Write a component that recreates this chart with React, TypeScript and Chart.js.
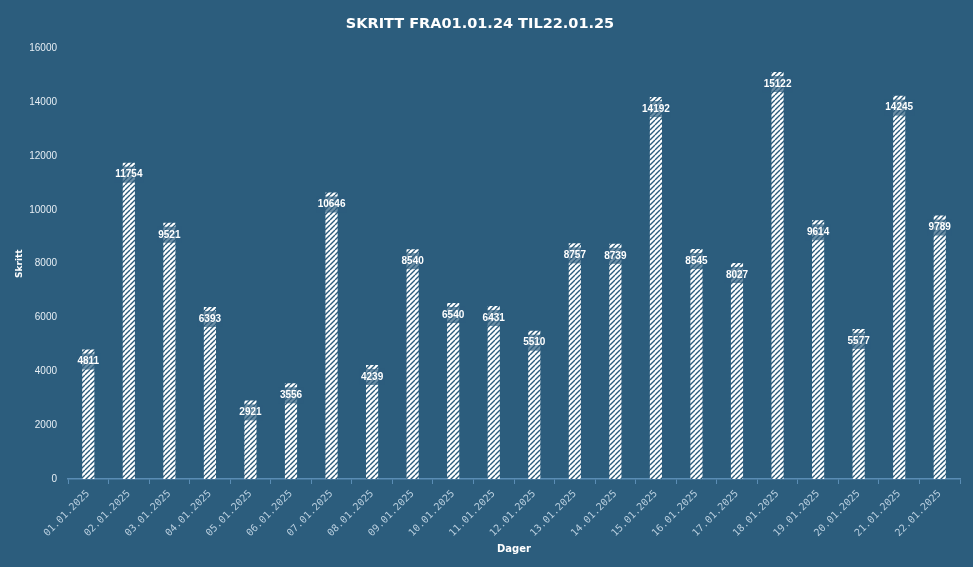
import React, { useEffect, useRef } from "react";
import { Chart, registerables } from "chart.js";

Chart.register(...registerables);

const categories = [
  "01.01.2025", "02.01.2025", "03.01.2025", "04.01.2025", "05.01.2025", "06.01.2025",
  "07.01.2025", "08.01.2025", "09.01.2025", "10.01.2025", "11.01.2025", "12.01.2025",
  "13.01.2025", "14.01.2025", "15.01.2025", "16.01.2025", "17.01.2025", "18.01.2025",
  "19.01.2025", "20.01.2025", "21.01.2025", "22.01.2025",
];
const steps = [
  4811, 11754, 9521, 6393, 2921, 3556, 10646, 4239, 8540, 6540, 6431, 5510,
  8757, 8739, 14192, 8545, 8027, 15122, 9614, 5577, 14245, 9789,
];
const yTicks = [0, 2000, 4000, 6000, 8000, 10000, 12000, 14000, 16000];
const titleText = "SKRITT FRA01.01.24 TIL22.01.25";
const xTitle = "Dager";
const yTitle = "Skritt";

const BG = "rgb(44,93,125)";

function makePattern(): CanvasPattern | string {
  const c = document.createElement("canvas");
  const s = 5;
  c.width = s;
  c.height = s;
  const ctx = c.getContext("2d");
  if (!ctx) return "#fff";
  ctx.fillStyle = "#ffffff";
  ctx.fillRect(0, 0, s, s);
  ctx.strokeStyle = BG;
  ctx.lineWidth = 1.4;
  ctx.beginPath();
  for (let k = -1; k <= 1; k++) {
    ctx.moveTo(k * s, s);
    ctx.lineTo(k * s + s, 0);
  }
  ctx.stroke();
  const p = ctx.createPattern(c, "repeat");
  return p || "#fff";
}

const labelPlugin = {
  id: "barLabels",
  afterDatasetsDraw(chart: any) {
    const ctx = chart.ctx;
    const meta = chart.getDatasetMeta(0);
    ctx.save();
    ctx.font = "bold 10px 'Liberation Sans'";
    ctx.textAlign = "center";
    ctx.textBaseline = "middle";
    meta.data.forEach((el: any, i: number) => {
      const txt = String(steps[i]);
      const w = ctx.measureText(txt).width;
      const y = el.y + 12;
      ctx.fillStyle = "rgba(44,93,125,0.7)";
      ctx.fillRect(el.x - w / 2 - 1, y - 8, w + 2, 16);
      ctx.fillStyle = "#ffffff";
      ctx.fillText(txt, el.x, y);
    });
    ctx.restore();
  },
};

export default function App() {
  const ref = useRef<HTMLCanvasElement | null>(null);
  useEffect(() => {
    if (!ref.current) return;
    const chart = new Chart(ref.current, {
      type: "bar",
      data: {
        labels: categories,
        datasets: [
          {
            data: steps,
            backgroundColor: makePattern() as any,
            borderWidth: 0,
            categoryPercentage: 1,
            barPercentage: 0.3,
          },
        ],
      },
      options: {
        responsive: false,
        animation: false,
        layout: { padding: { left: 0, right: 13, top: 0, bottom: 0 } },
        plugins: {
          legend: { display: false },
          tooltip: { enabled: false },
          title: {
            display: true,
            text: titleText,
            color: "#ffffff",
            font: { family: "'DejaVu Sans'", size: 14.5, weight: "bold" },
            padding: { top: 16, bottom: 15 },
          },
        },
        scales: {
          x: {
            afterFit: (s: any) => { s.height = 88; },
            grid: {
              display: true,
              drawOnChartArea: false,
              drawTicks: true,
              tickLength: 5,
              color: "#5a8db5",
              offset: true,
            },
            border: { display: true, color: "#5a8db5", width: 1.5 },
            ticks: {
              color: "#b9cfdf",
              font: { family: "'DejaVu Sans Mono'", size: 10 },
              minRotation: 45,
              maxRotation: 45,
              padding: 4,
              autoSkip: false,
            },
            title: {
              display: true,
              text: xTitle,
              color: "#ffffff",
              font: { family: "'DejaVu Sans'", size: 10, weight: "bold" },
              padding: { top: 0, bottom: 12 },
            },
          },
          y: {
            min: 0,
            max: 16000,
            afterFit: (s: any) => { s.width = 68; },
            afterBuildTicks: (s: any) => { s.ticks = yTicks.map((v) => ({ value: v })); },
            grid: { display: false, drawTicks: false },
            border: { display: false },
            ticks: {
              color: "#e6eef4",
              font: { family: "'Liberation Sans'", size: 10 },
              padding: 11,
              callback: (v: any) => String(v),
            },
            title: {
              display: true,
              text: yTitle,
              color: "#ffffff",
              font: { family: "'DejaVu Sans'", size: 9, weight: "bold" },
              padding: { top: 14, bottom: 0 },
            },
          },
        },
      },
      plugins: [labelPlugin],
    });
    return () => chart.destroy();
  }, []);
  return (
    <div style={{ position: "fixed", left: 0, top: 0, width: 973, height: 567, background: BG }}>
      <canvas ref={ref} width={973} height={567} style={{ display: "block" }} />
    </div>
  );
}
